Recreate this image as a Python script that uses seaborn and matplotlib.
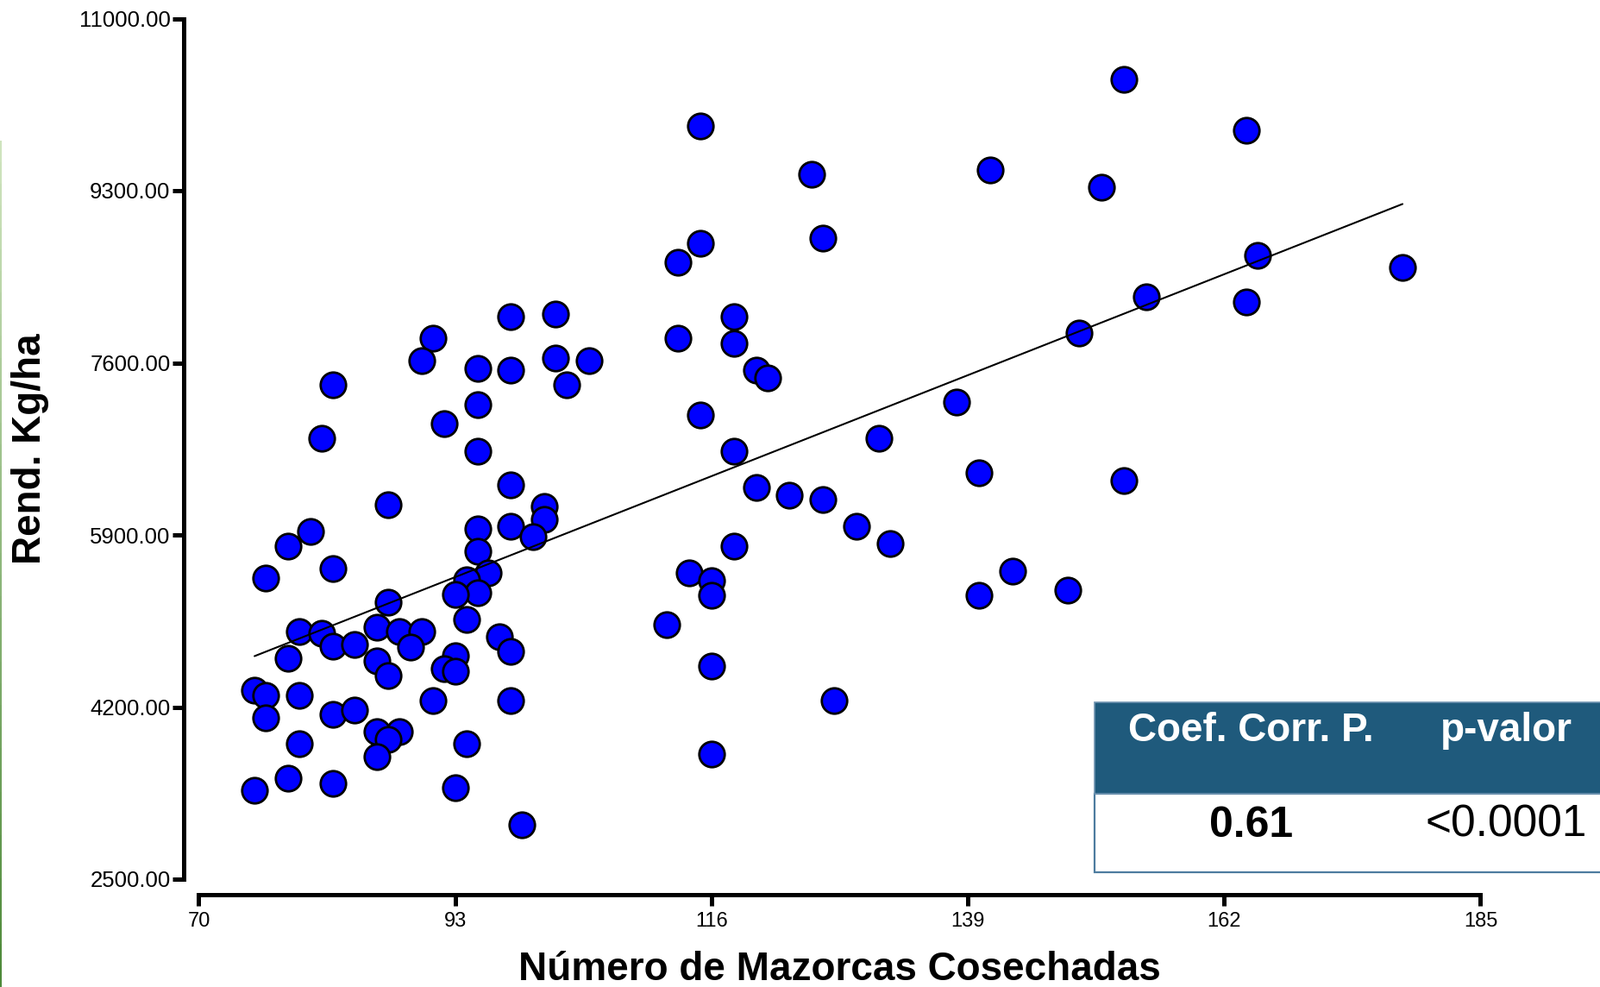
import numpy as np
import pandas as pd
import matplotlib
matplotlib.use("Agg")
import matplotlib.pyplot as plt
import seaborn as sns
from matplotlib.patches import Rectangle
from matplotlib.collections import LineCollection
from matplotlib.colors import LinearSegmentedColormap
from matplotlib.ticker import FormatStrFormatter

# ---------------- data ----------------
mazorcas = [81, 92, 95, 98, 101, 101, 98, 100, 95, 95, 96, 94, 95, 93, 94,
            87, 80, 78, 82, 76, 87, 79, 81, 82, 84, 86, 88, 90, 89, 78,
            86, 87, 93, 92, 93, 97, 98, 75, 76, 76, 79, 82, 84, 91, 98,
            86, 88, 87, 86, 79, 94, 78, 75, 82, 93, 99,
            98, 102, 91, 90, 95, 98, 102, 105, 103, 82, 95,
            115, 125, 141, 126, 115, 113, 118, 113, 118, 120, 121, 115, 138,
            149, 131, 118, 140, 120, 123, 126, 129, 132, 118, 114, 116, 116,
            112, 143, 140, 148, 116, 127, 116,
            153, 164, 151, 165, 178, 155, 164, 153]
rendimiento = [6852, 6995, 6729, 6394, 6179, 6056, 5985, 5881, 5962, 5741, 5525, 5460, 5332, 5310, 5062,
               6198, 5934, 5787, 5568, 5474, 5233, 4943, 4926, 4798, 4820, 4991, 4948, 4948, 4792, 4679,
               4656, 4509, 4707, 4579, 4556, 4897, 4747, 4366, 4318, 4096, 4318, 4125, 4173, 4267, 4267,
               3955, 3955, 3883, 3713, 3835, 3835, 3500, 3378, 3448, 3401, 3037,
               8059, 8082, 7840, 7622, 7547, 7528, 7647, 7624, 7383, 7383, 7189,
               9942, 9460, 9505, 8829, 8783, 8590, 8059, 7840, 7794, 7528, 7454, 7085, 7215,
               7890, 6852, 6729, 6511, 6366, 6295, 6247, 5983, 5812, 5787, 5525, 5451, 5304,
               5014, 5545, 5304, 5355, 4605, 4267, 3736,
               10400, 9894, 9338, 8664, 8542, 8251, 8204, 6440]

x_ticks = [70, 93, 116, 139, 162, 185]
y_ticks = [2500, 4200, 5900, 7600, 9300, 11000]
x_label = "Número de Mazorcas Cosechadas"
y_label = "Rend. Kg/ha"
table_header = ["Coef. Corr. P.", "p-valor"]
table_values = ["0.61", "<0.0001"]

# ---------------- style ----------------
sns.set_style("ticks")
plt.rcParams['font.family'] = ['Liberation Sans', 'DejaVu Sans']
plt.rcParams['text.color'] = 'black'
plt.rcParams['axes.labelcolor'] = 'black'
plt.rcParams['xtick.color'] = 'black'
plt.rcParams['ytick.color'] = 'black'
plt.rcParams['axes.edgecolor'] = 'black'

W, H = 1856, 1144
fig = plt.figure(figsize=(W / 100, H / 100), dpi=100)
ax = fig.add_axes([230.5 / W, 1 - 1019 / H, 1486 / W, 997.5 / H])

df = pd.DataFrame({"x": mazorcas, "y": rendimiento})
sns.scatterplot(data=df, x="x", y="y", ax=ax, s=450, color="#0000FF",
                edgecolor="black", linewidth=2.0, zorder=2, legend=False)
sns.regplot(data=df, x="x", y="y", ax=ax, scatter=False, ci=None,
            color="black", line_kws={"lw": 1.5, "zorder": 3})

ax.set_xlim(70, 185)
ax.set_ylim(2500, 11000)
ax.set_xticks(x_ticks)
ax.set_yticks(y_ticks)
ax.yaxis.set_major_formatter(FormatStrFormatter('%.2f'))

for s in ["top", "right"]:
    ax.spines[s].set_visible(False)
for s in ["left", "bottom"]:
    ax.spines[s].set_position(("outward", 12.6))
    ax.spines[s].set_linewidth(3.6)
    ax.spines[s].set_color("black")

ax.tick_params(axis="both", direction="out", length=9.6, width=3.6, color="black",
               labelcolor="black", bottom=True, left=True)
ax.tick_params(axis="y", labelsize=18.5, pad=1.5)
ax.tick_params(axis="x", labelsize=17, pad=5)
ax.grid(False)

ax.set_xlabel(x_label, fontsize=33, fontweight="bold", color="black")
ax.xaxis.set_label_coords(0.5, -0.1173)
ax.xaxis.label.set_va("baseline")
ax.set_ylabel(y_label, fontsize=33, fontweight="bold", color="black")
ax.yaxis.set_label_coords(-0.1234, 0.5)
ax.yaxis.label.set_va("baseline")

# ---------------- table ----------------
tl = 1269 / W
t_top = 1 - 814 / H
t_mid = 1 - 920 / H
t_bot = 1 - 1010.7 / H
fig.add_artist(Rectangle((tl, t_bot), 1.05 - tl, t_mid - t_bot, transform=fig.transFigure,
                         facecolor="white", edgecolor="#4D7C9F", lw=1.6, zorder=5))
fig.add_artist(Rectangle((tl, t_mid), 1.05 - tl, t_top - t_mid, transform=fig.transFigure,
                         facecolor="#1F5A7C", edgecolor="#6F93B0", lw=1.2, zorder=5))
col_x = [1450.8 / W, 1746.6 / W]
fig.text(col_x[0], 1 - 859 / H, table_header[0], color="white", fontsize=33,
         fontweight="bold", ha="center", va="baseline", zorder=6)
fig.text(col_x[1], 1 - 859 / H, table_header[1], color="white", fontsize=33,
         fontweight="bold", ha="center", va="baseline", zorder=6)
fig.text(col_x[0], 1 - 969.5 / H, table_values[0], color="black", fontsize=36,
         fontweight="bold", ha="center", va="baseline", zorder=6)
fig.text(col_x[1], 1 - 969.5 / H, table_values[1], color="black", fontsize=37,
         ha="center", va="baseline", zorder=6)

# thin green edge line at left border
ys = np.linspace(1 - 163 / H, 0, 40)
segs = [[(0.6 / W, ys[i]), (0.6 / W, ys[i + 1])] for i in range(len(ys) - 1)]
cmap = LinearSegmentedColormap.from_list("g", ["#CFE4BE", "#4E8A3A"])
lc = LineCollection(segs, colors=[cmap(i / (len(segs) - 1)) for i in range(len(segs))],
                    linewidths=1.5, transform=fig.transFigure)
fig.add_artist(lc)

fig.savefig("out.png", dpi=100)
